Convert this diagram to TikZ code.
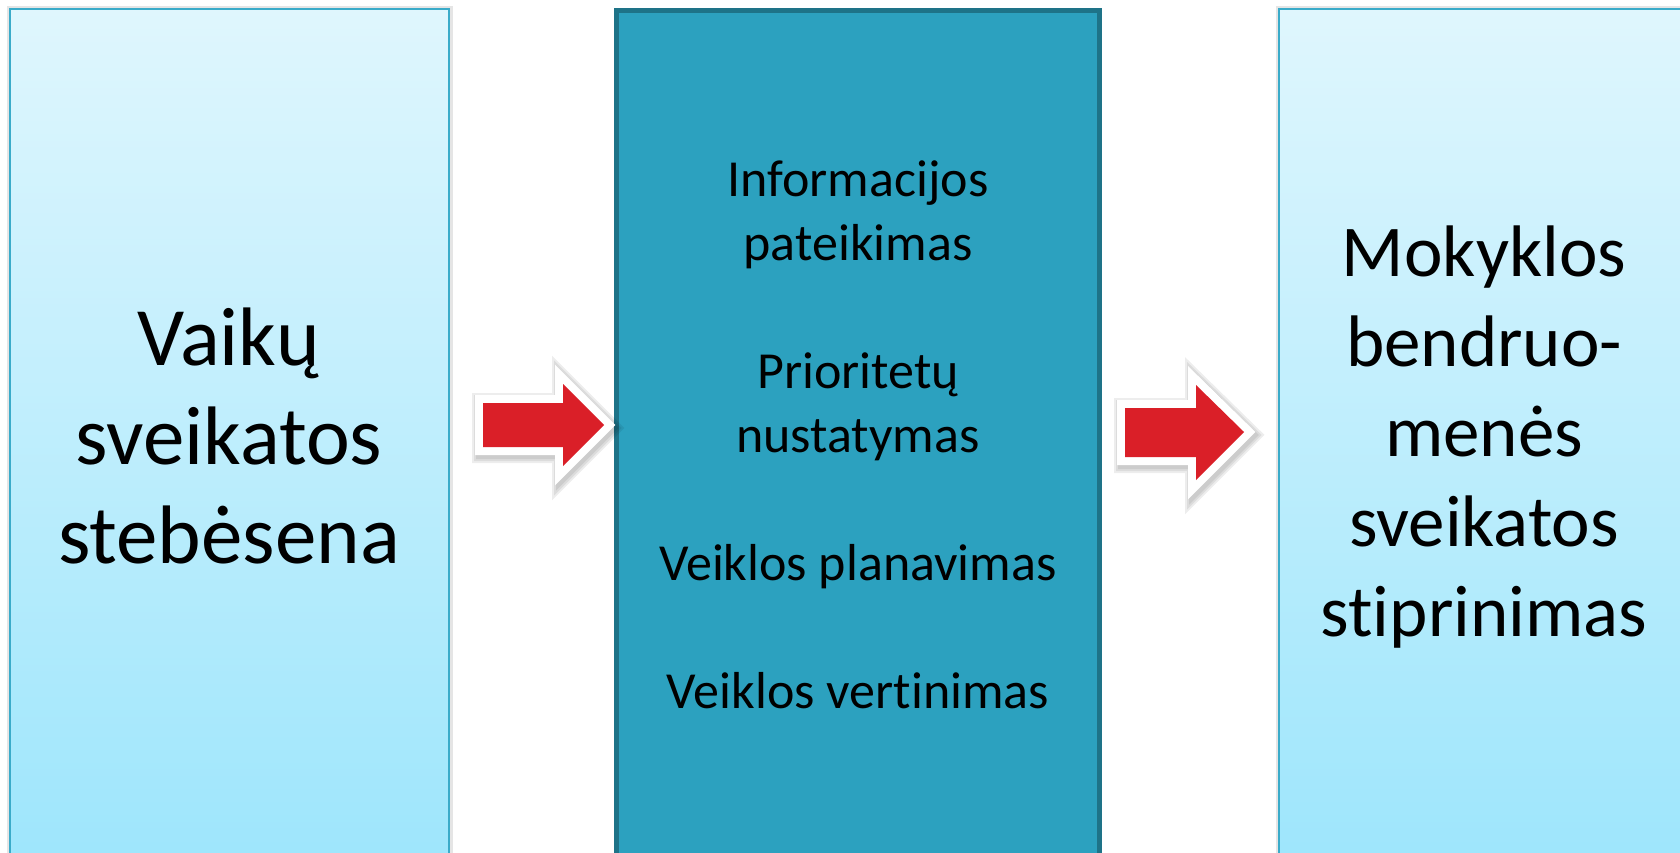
\documentclass[tikz,border=0pt]{standalone}
\usepackage{fontspec}
\setmainfont{Carlito}[Ligatures={NoCommon}]
\definecolor{lighttop}{HTML}{DFF6FD}
\definecolor{lightbot}{HTML}{9BE5FC}
\definecolor{lightedge}{HTML}{3AABC9}
\definecolor{midfill}{HTML}{2CA1BF}
\definecolor{midedge}{HTML}{1E7388}
\definecolor{arrowred}{HTML}{DA1F28}
\tikzset{
  lightbox/.style={top color=lighttop, bottom color=lightbot, draw=lightedge, line width=2.5pt},
  midbox/.style={fill=midfill, draw=midedge, line width=5pt},
  shadowbox/.style={fill=black, opacity=0.10},
  arrowwhite/.style={draw=white, fill=white, line width=16pt, line join=miter},
  arrowshadow/.style={draw=black, fill=black, line join=miter, opacity=0.07},
  arrowfill/.style={fill=arrowred},
  bigtext/.style={align=center, text=black, inner sep=0pt},
}
\begin{document}
\begin{tikzpicture}[x=1pt,y=-1pt]
\useasboundingbox (0,0) rectangle (1680,853);
\clip (0,0) rectangle (1680,853);
\fill[white] (0,0) rectangle (1680,853);
% shadows of boxes
\fill[shadowbox] (6.5,6) rectangle (452.5,900);
\fill[shadowbox] (1275.5,6) rectangle (1700,900);
% boxes
\path[lightbox] (10,9) rectangle (449,900);
\path[midbox] (616.5,10.5) rectangle (1099.5,900);
\path[lightbox] (1279,9) rectangle (1700,900);
% arrow 1
\foreach \w in {26,22,18}
  \path[arrowshadow, line width=\w pt, shift={(2,3)}] (483,403) -- (563,403) -- (563,384) -- (604,425) -- (563,466) -- (563,447) -- (483,447) -- cycle;
\path[arrowwhite] (483,403) -- (563,403) -- (563,384) -- (604,425) -- (563,466) -- (563,447) -- (483,447) -- cycle;
\path[arrowfill] (483,403) -- (563,403) -- (563,384) -- (604,425) -- (563,466) -- (563,447) -- (483,447) -- cycle;
% arrow 2
\foreach \w in {26,22,18}
  \path[arrowshadow, line width=\w pt, shift={(2,3)}] (1125,408) -- (1196,408) -- (1196,385) -- (1244,432) -- (1196,480) -- (1196,457) -- (1125,457) -- cycle;
\path[arrowwhite] (1125,408) -- (1196,408) -- (1196,385) -- (1244,432) -- (1196,480) -- (1196,457) -- (1125,457) -- cycle;
\path[arrowfill] (1125,408) -- (1196,408) -- (1196,385) -- (1244,432) -- (1196,480) -- (1196,457) -- (1125,457) -- cycle;
% texts
\node[bigtext, font=\fontsize{83}{99}\selectfont] (left) at (229,436) {Vaikų\\sveikatos\\stebėsena};
\node[bigtext, font=\fontsize{52}{64}\selectfont] (mid) at (858,435) {Informacijos\\pateikimas\\[64pt]Prioritetų\\nustatymas\\[64pt]Veiklos planavimas\\[64pt]Veiklos vertinimas};
\node[bigtext, font=\fontsize{73}{90}\selectfont] (right) at (1484,437) {Mokyklos\\bendruo-\\menės\\sveikatos\\stiprinimas};
\end{tikzpicture}
\end{document}
